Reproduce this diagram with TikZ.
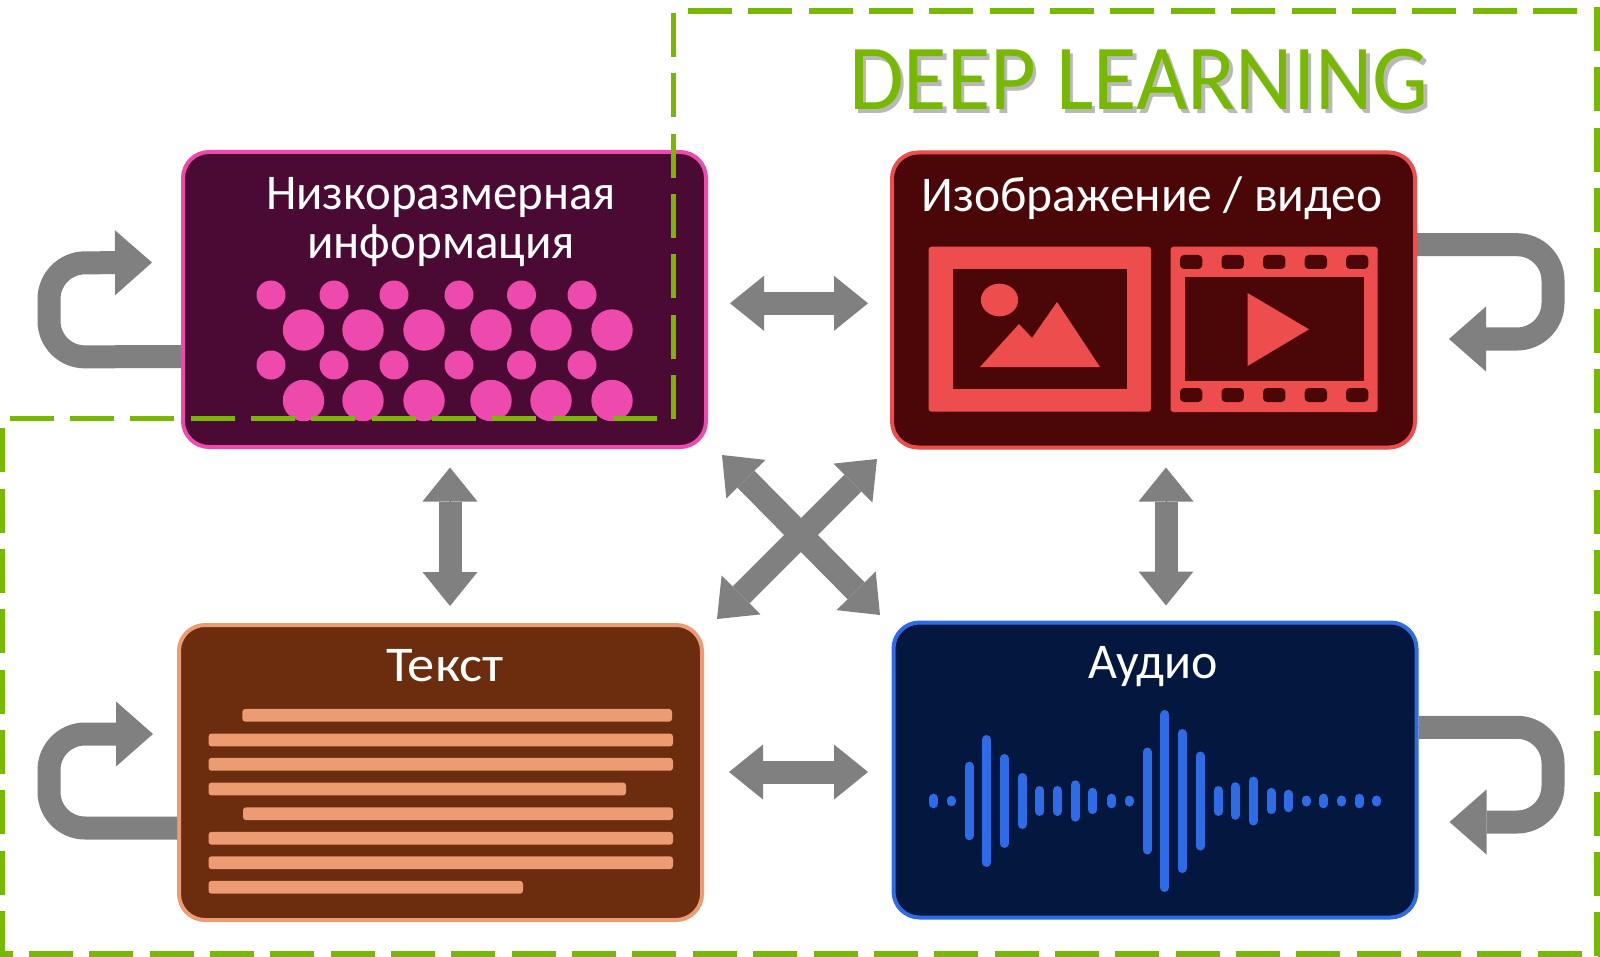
\documentclass[tikz,border=0pt]{standalone}
\usepackage{fontspec}
\setmainfont{Carlito}
\usetikzlibrary{arrows.meta}
\definecolor{nvgreen}{HTML}{76B900}
\definecolor{arrowgray}{HTML}{808080}
\definecolor{pinkline}{HTML}{EE4AAE}
\definecolor{plumfill}{HTML}{4B0A33}
\definecolor{redline}{HTML}{EE4D4D}
\definecolor{redfill}{HTML}{4B0707}
\definecolor{peachline}{HTML}{EC9B73}
\definecolor{brownfill}{HTML}{6B2D0E}
\definecolor{blueline}{HTML}{2E6BE6}
\definecolor{navyfill}{HTML}{04183F}
\tikzset{
infobox/.style n args={2}{draw=#1,fill=#2,line width=4pt,rounded corners=26pt,minimum width=523pt,minimum height=295pt,inner sep=0pt},
boxtitle/.style={text=white,anchor=base,inner sep=0pt,font=\fontsize{50}{50}\selectfont,transform shape},
thickarrow/.style={draw=arrowgray,line width=23pt,{Triangle[length=34pt,width=55pt,line width=0pt]}-{Triangle[length=34pt,width=55pt,line width=0pt]},preaction={draw,arrows=-,shorten <=30pt,shorten >=30pt}},
looparrow/.style={draw=arrowgray,line width=23pt,rounded corners=36pt,-{Triangle[length=37pt,width=65pt,line width=0pt]},preaction={draw,arrows=-,shorten >=33pt}},
greendash/.style={draw=nvgreen,line width=5.5pt,dash pattern=on 44pt off 16.35pt},
dltext/.style={inner sep=0pt,anchor=base,font=\fontsize{93}{93}\selectfont,xscale=.955,transform shape},
}
\begin{document}
\begin{tikzpicture}[x=1pt,y=-1pt,line join=miter]
\useasboundingbox (0,0) rectangle (1600,957);
% boxes
\node[infobox={pinkline}{plumfill}] (lowdim) at (444.5,299.5) {};
\node[infobox={redline}{redfill}] (imgvid) at (1153.5,300) {};
\node[infobox={peachline}{brownfill}] (textb) at (440.5,772.5) {};
\node[infobox={blueline}{navyfill}] (audio) at (1155,770) {};
% titles
\node[boxtitle,xscale=.975] (lowdimtop) at (441,209.5) {Низкоразмерная};
\node[boxtitle,xscale=.98] (lowdimbot) at (441,259) {информация};
\node[boxtitle,xscale=.99] (imgvidt) at (1152,212) {Изображение / видео};
\node[boxtitle,xscale=1.09] (textt) at (445,681) {Текст};
\node[boxtitle] (audiot) at (1153.5,678) {Аудио};
% low dimensional dots
\foreach \x in {271,334,394,459,521.5,582} {
\fill[pinkline] (\x,295) circle(14.5);
\fill[pinkline] (\x,365) circle(14.5);
}
\foreach \x in {303.5,363,424,491,551,612} {
\fill[pinkline] (\x,330) circle(20.7);
\fill[pinkline] (\x,400.5) circle(20.7);
}
% picture icon
\fill[redline,rounded corners=3pt] (928.5,246.7) rectangle (1151,411.7);
\fill[redfill] (953,269) rectangle (1127,389);
\fill[redline] (999.5,300) ellipse(18.6 and 16.3);
\fill[redline] (980,367) -- (1019,324) -- (1032,338) -- (1057,302) -- (1100,367) -- cycle;
% film icon
\fill[redline,rounded corners=3pt] (1170.5,246.7) rectangle (1377.7,412);
\fill[redfill] (1185,277) rectangle (1363.5,381);
\foreach \x in {1180,1221.5,1263,1304.7,1346} {
\fill[redfill,rounded corners=4pt] (\x,255) rectangle ++(22.3,14);
\fill[redfill,rounded corners=4pt] (\x,388) rectangle ++(22.3,14);
}
\fill[redline] (1247.5,293) -- (1309,329.3) -- (1247.5,366) -- cycle;
% text lines
\foreach \xa/\xb/\y in {242.4/672/715.3,208.5/673/740,208.5/673/764.3,208.5/626/789,243/673/813.7,208.5/673/838.3,208.5/673/862.7,208.5/523/887.3}
\fill[peachline,rounded corners=3pt] (\xa,\y-6.4) rectangle (\xb,\y+6.4);
% audio bars
\foreach \x/\h in {933.5/7.3,951/5.3,969/39.3,986.6/66,1004/47,1022/28,1039.7/15,1057/15,1075/20.7,1092.7/13.2,1111.7/7.3,1129/5.5,1147/53.5,1164.7/91,1182/72,1200/49.5,1218/15,1235/18.8,1253/24.5,1271/13.2,1288.4/11.3,1306/5.5,1323.6/7.3,1341.5/5.5,1359/7.3,1376.7/5.5}
\draw[blueline,line width=9pt,line cap=round] (\x,{801-\h+4.5}) -- (\x,{801+\h-4.5});
% arrows between the boxes
\draw[thickarrow] ([shift={(22,3.8)}]lowdim.east) -- ([shift={(-22,3.3)}]imgvid.west);
\draw[thickarrow] ([shift={(25,-0.5)}]textb.east) -- ([shift={(-23.5,2)}]audio.west);
\draw[thickarrow] ([shift={(5.5,18.5)}]lowdim.south) -- ([shift={(9.5,-17)}]textb.north);
\draw[thickarrow] ([shift={(12.5,18)}]imgvid.south) -- ([shift={(11,-15)}]audio.north);
\draw[thickarrow,line width=24pt] ([shift={(14,6)}]lowdim.south east) -- ([shift={(-11.5,-5.5)}]audio.north west);
\draw[thickarrow,line width=24pt] ([shift={(13,-4)}]textb.north east) -- ([shift={(-13,9.5)}]imgvid.south west);
% loops
\coordinate (lowdimin) at ([shift={(-29,-37)}]lowdim.west);
\coordinate (textin) at ([shift={(-24,-38.5)}]textb.west);
\coordinate (imgvidin) at ([shift={(32,39)}]imgvid.east);
\coordinate (audioin) at ([shift={(31,52)}]audio.east);
\draw[looparrow] ([yshift=-57pt]lowdim.west) -- (49,357) -- (49,263) -- (lowdimin);
\draw[looparrow] ([yshift=-55.5pt]textb.west) -- (49,828) -- (49,734) -- (textin);
\draw[looparrow] ([yshift=55.3pt]imgvid.east) -- (1553,244.7) -- (1553,339) -- (imgvidin);
\draw[looparrow] ([yshift=42.7pt]audio.east) -- (1553,727.3) -- (1553,822) -- (audioin);
% deep learning
\node[dltext,text=black,opacity=.28] (dlshadow) at (1142.5,114) {DEEP LEARNING};
\node[dltext,text=nvgreen] (dltitle) at (1139,110) {DEEP LEARNING};
% dashed frame
\foreach \xa/\ya/\xb/\yb/\ph in {673.7/419/673.7/13/0,688/11/1580/11/0,1597/7/1597/957/0,0/954/1600/954/31.4,2.6/955/2.6/427/0,9.5/418.3/660/418.3/0}
\draw[greendash,dash phase=\ph] (\xa,\ya) -- (\xb,\yb);
\end{tikzpicture}
\end{document}
